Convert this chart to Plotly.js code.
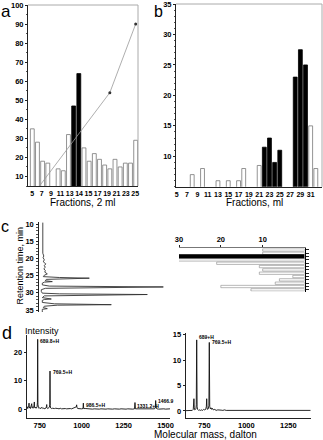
<!DOCTYPE html>
<html><head><meta charset="utf-8">
<script src="https://cdn.plot.ly/plotly-3.0.1.min.js"></script>
<style>html,body{margin:0;padding:0;background:#fff}#chart{width:323px;height:440px}</style>
</head><body><div id="chart"></div><script>
// ---- Panel a ----
const fractionsA = [5,6,7,8,10,11,12,13,14,15,16,17,18,19,20,21,22,23,24,25];
const valuesA    = [35,28,18,17,14,13,32,47,64,25,18,22,19,16,14,19,15,17,17,29];
const blackA = [13,14];
const gradientFractions = [5,20,25];
const gradientPercent   = [0,54,90];
const tickLabelsA = ['5','7','9','11','13','14','15','17','19','21','23','25'];
const tickPosA = [5,6.81,8.62,10.43,12.24,14.05,15.85,17.66,19.47,21.28,23.09,24.9];
const yTicksA = [10,20,30,40,50,60,70,80,90,100];

// ---- Panel b ----
const fractionsB = [8,10,13,15,17,18,21,22,23,24,25,28,29,30,31,32];
const valuesB    = [7,8,6,6,6,8,8.5,11.5,13,9,11,23,27.5,25,15,8];
const blackB = [22,23,24,25,28,29,30];
const tickLabelsB = [5,7,9,11,13,15,17,19,21,23,25,27,29,31];
const yTicksB = [10,15,20,25,30,35];

// ---- Panel c (chromatogram) ----
const chromTime = [9.6,18.5,19.3,19.8,20.4,21.0,21.6,22.1,22.6,23.0,
  23.5,24.0,24.5,24.9,25.3,25.55,25.75,25.9,26.1,26.5,
  26.75,26.9,27.2,27.7,28.05,28.3,28.45,28.7,29.1,29.6,
  30.1,30.3,30.5,30.65,30.9,31.4,31.8,31.95,32.2,32.8,
  33.2,33.45,33.6,33.9,34.3,34.6,34.8,35.2,35.6];
const chromSignal = [3.5,3.5,4.5,3.8,5,4,6.5,5,6,4.5,
  6,5.5,8,5,4,20,50,12,7,6,
  13,5,3,3,10,124,30,6,2,2,
  3,20,108,25,5,3,12,5,3,3,
  15,72,18,5,4,8,3,3,3];
const timeTicks = [10,15,20,25,30,35];

// ---- Panel c (horizontal bars) ----
const rowsC   = [1,2,3,4,5,6,7,8,9,10,11,12,13];
const valuesC = [10,10,33,32.2,21,10.8,10,10.8,2.8,6,7,20,12.8];
const blackRowC = 3;
const ticksC = [30,20,10];

// ---- Panel d (mass spectra) ----
const massLeft = [672,675,678,681,684,686,688,691,694,697,
  700,702,704,707,710,713,716,717.5,719,722,
  725,728,731,734,736,737.5,739,742,745,748,
  752,756,760,764,768,772,776,780,784,788,
  790,791.5,793,797,801,805,808,809.5,811,812.5,
  815,820,826,832,838,845,852,858,865,872,
  880,888,895,902,910,918,925,932,940,948,
  955,962,968,970,972,978,985,992,1000,1008,
  1010,1012,1025,1035,1045,1055,1065,1075,1085,1095,
  1105,1115,1125,1135,1145,1155,1165,1175,1185,1195,
  1205,1215,1225,1235,1245,1255,1265,1275,1285,1295,
  1305,1315,1318,1321,1335,1345,1355,1365,1375,1385,
  1395,1405,1415,1425,1435,1439,1441.5,1444,1450,1460,
  1470,1480,1490,1500,1510,1520,1527];
const intensityLeft = [0.4,0.9,0.3,0.6,1.4,2.2,0.5,0.8,0.3,0.7,
  1.3,2.0,0.6,0.9,0.4,0.6,1.5,2.6,0.7,0.5,
  0.8,0.4,0.6,0.9,2.5,24.5,1.8,0.7,0.4,0.6,
  0.3,0.5,0.4,0.7,0.3,0.5,0.2,0.4,0.6,0.5,
  1.1,1.7,0.6,0.3,0.5,0.4,0.8,1.6,13.4,1.3,
  0.5,0.3,0.4,0.2,0.3,0.4,0.2,0.3,0.2,0.4,
  0.2,0.3,0.2,0.3,0.2,0.3,0.2,0.3,0.2,0.4,
  0.3,0.5,0.9,1.6,0.6,0.3,0.2,0.3,0.2,0.3,
  2.2,0.3,0.3,0.2,0.1,0.2,0.1,0.2,0.1,0.2,
  0.1,0.2,0.1,0.2,0.1,0.2,0.1,0.2,0.1,0.2,
  0.1,0.2,0.1,0.2,0.1,0.2,0.1,0.2,0.1,0.2,
  0.1,0.2,2.4,0.2,0.2,0.1,0.2,0.1,0.2,0.1,
  0.2,0.1,0.2,0.1,0.2,0.6,3.1,0.5,0.2,0.1,
  0.2,0.1,0.2,0.1,0.2,0.1,0.2];
const massRight = [639,650,660,670,678,684,686,688,690,693,
  697,700,702,704.5,707,710,716,722,728,734,
  740,746,752,758,762,764,766,769,773,777,
  779.5,782,786,790,794,798,804,812,820,830,
  840,850,860,870,880,890,900,915,930,945,
  960,975,990,1005,1020,1040,1060,1080,1100,1120,
  1140,1160,1180,1200,1220,1240,1260,1280,1300,1320,
  1340,1360,1383];
const intensityRight = [0.05,0.1,0.05,0.15,0.1,0.3,1.0,2.4,0.6,0.2,
  0.3,0.4,1.2,14,0.8,0.3,0.1,0.2,0.1,0.2,
  0.1,0.3,0.2,0.3,0.9,2.4,0.6,0.3,0.4,1.0,
  13.5,0.9,0.4,0.6,0.3,0.5,0.2,0.3,0.1,0.2,
  0.1,0.15,0.1,0.2,0.1,0.1,0.15,0.1,0.1,0.15,
  0.1,0.1,0.15,0.1,0.1,0.15,0.1,0.1,0.15,0.1,
  0.1,0.15,0.1,0.1,0.15,0.1,0.1,0.15,0.1,0.1,
  0.15,0.1,0.1];
const massTicksLeft = [750,1000,1250,1500];
const massTicksRight = [750,1000,1250];
const intTicksLeft = [0,10,20];
const intTicksRight = [0,5,10,15];

const FONT = 'Arial, "Liberation Sans", sans-serif';
const W = 323, H = 440;
const px = v => v / W;
const py = v => 1 - v / H;
const tf = {family: FONT, size: 7.5, color: '#000', weight: 'bold'};
const tfx = {family: FONT, size: 7, color: '#000', weight: 'bold'};

const barFill = (xs, blacks) => xs.map(x => blacks.includes(x) ? '#000' : '#fff');
const barLine = (xs, blacks) => xs.map(x => blacks.includes(x) ? '#000' : '#777');

const traces = [
  {type:'bar', x:fractionsA, y:valuesA, width:0.75, xaxis:'x', yaxis:'y',
   marker:{color:barFill(fractionsA, blackA), line:{color:barLine(fractionsA, blackA), width:0.8}}},
  {type:'scatter', mode:'lines+markers', x:gradientFractions, y:gradientPercent, xaxis:'x', yaxis:'y',
   line:{color:'#999', width:0.8}, marker:{color:'#333', size:3}},
  {type:'bar', x:fractionsB, y:valuesB, width:0.75, xaxis:'x2', yaxis:'y2',
   marker:{color:barFill(fractionsB, blackB), line:{color:barLine(fractionsB, blackB), width:0.8}}},
  {type:'scatter', mode:'lines', x:chromSignal, y:chromTime, xaxis:'x3', yaxis:'y3',
   line:{color:'#333', width:0.9}, cliponaxis:false},
  {type:'bar', orientation:'h', x:valuesC, y:rowsC, xaxis:'x4', yaxis:'y4', cliponaxis:false,
   width: rowsC.map(r => r === blackRowC ? 1.25 : 0.7),
   marker:{color: rowsC.map(r => r === blackRowC ? '#000' : '#fff'),
           line:{color: rowsC.map(r => r === blackRowC ? '#000' : '#888'), width:0.6}}},
  {type:'scatter', mode:'lines', x:massLeft, y:intensityLeft, xaxis:'x5', yaxis:'y5',
   line:{color:'#111', width:0.9}},
  {type:'scatter', mode:'lines', x:massRight, y:intensityRight, xaxis:'x6', yaxis:'y6',
   line:{color:'#111', width:0.9}}
];

const baseAx = {showgrid:false, zeroline:false, showline:true, linecolor:'#222', linewidth:1,
  tickfont:tf, fixedrange:true, tickcolor:'#222', tickangle:0, automargin:false};

const layout = {
  width:W, height:H, margin:{l:0,r:0,t:0,b:0}, showlegend:false,
  paper_bgcolor:'#fff', plot_bgcolor:'rgba(0,0,0,0)', bargap:0,
  font:{family:FONT, color:'#000'},
  xaxis: Object.assign({}, baseAx, {domain:[px(28), px(138)], range:[4.17,25.45], anchor:'y',
    tickmode:'array', tickvals:tickPosA, ticktext:tickLabelsA, ticks:'', ticklabelstandoff:1, tickfont:tfx}),
  yaxis: Object.assign({}, baseAx, {domain:[py(186), py(5)], range:[5,100], anchor:'x',
    tickmode:'array', tickvals:yTicksA, ticks:'outside', ticklen:2,
    minor:{dtick:5, tick0:0, ticks:'outside', ticklen:1.5, tickcolor:'#555'}}),
  xaxis2: Object.assign({}, baseAx, {domain:[px(176), px(322)], range:[4.85,33.2], anchor:'y2',
    tickmode:'array', tickvals:tickLabelsB, ticks:'', ticklabelstandoff:1, tickfont:tfx}),
  yaxis2: Object.assign({}, baseAx, {domain:[py(186.8), py(4)], range:[5,35], anchor:'x2',
    tickmode:'array', tickvals:yTicksB, ticks:'outside', ticklen:2,
    minor:{dtick:1, tick0:0, ticks:'outside', ticklen:1.5, tickcolor:'#555'}}),
  xaxis3: {domain:[px(39.3), px(172)], range:[0,132.7], anchor:'y3', visible:false, fixedrange:true},
  yaxis3: Object.assign({}, baseAx, {domain:[py(312), py(222)], range:[35.58,9.42], anchor:'x3',
    tickmode:'array', tickvals:timeTicks, ticks:'outside', ticklen:2, ticklabelstandoff:1,
    minor:{dtick:1, tick0:0, ticks:'outside', ticklen:2, tickcolor:'#555'}}),
  xaxis4: Object.assign({}, baseAx, {domain:[px(179), px(304.5)], range:[30,0], anchor:'y4', side:'top',
    tickmode:'array', tickvals:ticksC, ticks:'outside', ticklen:2, linecolor:'#777'}),
  yaxis4: Object.assign({}, baseAx, {domain:[py(291.5), py(248.3)], range:[13.5,0.5], anchor:'x4', side:'right',
    tickmode:'array', tickvals:rowsC, ticks:'outside', ticklen:3, showticklabels:false, linewidth:1.6, linecolor:'#000'}),
  xaxis5: Object.assign({}, baseAx, {domain:[px(26.7), px(170)], range:[672,1527], anchor:'y5',
    tickmode:'array', tickvals:massTicksLeft, ticks:'', ticklabelstandoff:0}),
  yaxis5: Object.assign({}, baseAx, {domain:[py(418), py(335)], range:[-3.0,26], anchor:'x5',
    tickmode:'array', tickvals:intTicksLeft, ticks:'outside', ticklen:2}),
  xaxis6: Object.assign({}, baseAx, {domain:[px(185.7), px(310.7)], range:[639,1383], anchor:'y6',
    tickmode:'array', tickvals:massTicksRight, ticks:'', ticklabelstandoff:0}),
  yaxis6: Object.assign({}, baseAx, {domain:[py(417.5), py(333.3)], range:[-1.3,15.3], anchor:'x6',
    tickmode:'array', tickvals:intTicksRight, ticks:'outside', ticklen:2}),
  shapes: [
    {type:'line', xref:'x domain', yref:'y domain', x0:0, x1:1, y0:1, y1:1, line:{color:'#aaa', width:1}},
    {type:'line', xref:'x domain', yref:'y domain', x0:1, x1:1, y0:0, y1:1, line:{color:'#aaa', width:1}},
    {type:'line', xref:'x2 domain', yref:'y2 domain', x0:0, x1:1, y0:1, y1:1, line:{color:'#aaa', width:1}},
    {type:'line', xref:'x2 domain', yref:'y2 domain', x0:1, x1:1, y0:0, y1:1, line:{color:'#aaa', width:1}}
  ],
  annotations: []
};

function ann(text, x, y, size, opts) {
  return Object.assign({text, xref:'paper', yref:'paper', x:px(x), y:py(y), showarrow:false,
    xanchor:'center', yanchor:'middle', font:{family:FONT, size, color:'#000'}}, opts || {});
}
layout.annotations.push(
  ann('a', 6, 11, 17), ann('b', 158.5, 12, 16), ann('c', 5, 227, 16), ann('d', 7, 333, 18),
  ann('Fractions, 2 ml', 83, 202, 10),
  ann('Fractions, ml', 254, 202, 10),
  ann('Retention time, min', 19.5, 266, 9, {textangle:-90}),
  ann('Intensity', 23, 331, 9, {xanchor:'left'}),
  ann('Molecular mass, dalton', 205, 434.3, 10)
);
const lab = (text, xr, yr, x, y) => ({text, xref:xr, yref:yr, x, y, showarrow:false,
  xanchor:'left', yanchor:'middle', font:{family:FONT, size:5, color:'#000', weight:'bold'}});
layout.annotations.push(
  lab('689.8+H', 'x5', 'y5', 742, 24),
  lab('769.5+H', 'x5', 'y5', 815, 13.2),
  lab('986.5+H', 'x5', 'y5', 1013, 1.4),
  lab('1331.2+H', 'x5', 'y5', 1321, 1.2),
  lab('1466.9', 'x5', 'y5', 1444, 2.8),
  lab('689+H', 'x6', 'y6', 708, 14.5),
  lab('769.5+H', 'x6', 'y6', 783, 13.5)
);

Plotly.newPlot('chart', traces, layout, {staticPlot:true, displayModeBar:false});
</script></body></html>
